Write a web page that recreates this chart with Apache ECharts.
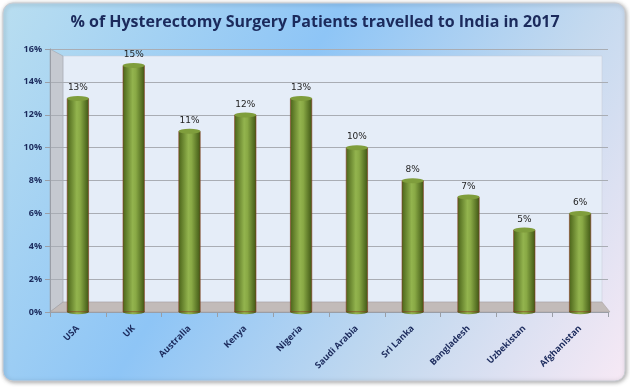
<!DOCTYPE html>
<html>
<head>
<meta charset="utf-8">
<script src="https://cdn.jsdelivr.net/npm/echarts@6/dist/echarts.min.js"></script>
<style>
  html,body{margin:0;padding:0;background:#fff;}
  #main{width:630px;height:387px;}
</style>
</head>
<body>
<div id="main"></div>
<script>
  // 数据
  let countries = ['USA','UK','Australia','Kenya','Nigeria','Saudi Arabia','Sri Lanka','Bangladesh','Uzbekistan','Afghanistan'];
  let patients = [13,15,11,12,13,10,8,7,5,6];
  let yTicks = [0,2,4,6,8,10,12,14,16];

  let myChart = echarts.init(document.getElementById('main'));
  let navy = '#1b2a5c';
  let barColor = new echarts.graphic.LinearGradient(0,0,1,0,[
    {offset:0,color:'#4a6319'},
    {offset:0.45,color:'#93b44e'},
    {offset:0.6,color:'#89a945'},
    {offset:1,color:'#3f5614'}
  ]);
  let option = {
    backgroundColor:'#ffffff',
    graphic:[
      {//外框背景
        type:'rect',
        z:-10,
        shape:{x:3,y:3,width:622,height:378,r:10},
        style:{
          fill:new echarts.graphic.LinearGradient(0,0,1,1,[
            {offset:0,color:'#b9def0'},
            {offset:0.4,color:'#8ec5f6'},
            {offset:0.7,color:'#c3d9ef'},
            {offset:1,color:'#f7e9f5'}
          ]),
          stroke:'#c9ccd3',
          lineWidth:1,
          shadowBlur:4,
          shadowColor:'rgba(0,0,0,0.35)',
          shadowOffsetX:1,
          shadowOffsetY:1
        }
      },
      {//侧墙
        type:'polygon',
        z:-5,
        shape:{points:[[50,49],[63,56],[63,302],[50,312]]},
        style:{fill:'#c5c9d0',stroke:'#9a9ea6',lineWidth:0.5}
      },
      {//底面
        type:'polygon',
        z:-5,
        shape:{points:[[50,312],[63,302],[602,302],[610,312]]},
        style:{fill:'#c2bbb9',stroke:'#a29a98',lineWidth:0.5}
      },
      {//背墙
        type:'rect',
        z:-6,
        shape:{x:63,y:56,width:539,height:246},
        style:{fill:'#e5edf8',stroke:'#c4cbd6',lineWidth:0.5}
      }
    ],
    title:{
      text:'% of Hysterectomy Surgery Patients travelled to India in 2017',
      left:'center',
      top:9,
      textStyle:{
        color:navy,
        fontFamily:'Open Sans',
        fontWeight:'bold',
        fontSize:16
      }
    },
    grid:{
      left:50,
      right:22,
      top:49,
      bottom:75
    },
    xAxis:{
      type:'category',
      data:countries,
      axisTick:{show:true,alignWithLabel:false,lineStyle:{color:'#9a9ea6'}},
      axisLine:{show:true,lineStyle:{color:'#9a9ea6'}},
      axisLabel:{
        interval:0,
        rotate:45,
        color:navy,
        fontFamily:'Open Sans',
        fontWeight:'bold',
        fontSize:9,
        margin:15
      },
      splitLine:{show:false}
    },
    yAxis:{
      type:'value',
      min:0,
      max:16,
      interval:2,
      axisLine:{show:true,lineStyle:{color:'#9a9ea6'}},
      axisTick:{show:true,lineStyle:{color:'#9a9ea6'}},
      axisLabel:{
        formatter:function(v){return yTicks.indexOf(v)>=0 ? v+'%' : '';},
        color:navy,
        fontFamily:'Open Sans',
        fontWeight:'bold',
        fontSize:9,
        margin:8
      },
      splitLine:{show:true,lineStyle:{color:'#a9adb4',width:1}}
    },
    series:[
      {
        type:'bar',
        data:patients,
        barWidth:22,
        itemStyle:{color:barColor,borderColor:'#8a3a22',borderWidth:0.6},
        label:{
          show:true,
          position:'top',
          distance:6,
          formatter:'{c}%',
          color:'#222',
          fontFamily:'DejaVu Sans',
          fontSize:9
        },
        z:2
      },
      {//柱顶椭圆
        type:'pictorialBar',
        data:patients,
        symbol:'circle',
        symbolSize:[22,5],
        symbolPosition:'end',
        symbolOffset:[0,'-50%'],
        itemStyle:{color:'#7f9e3c',borderColor:'#8a3a22',borderWidth:0.6},
        z:3,
        silent:true
      },
      {//柱底椭圆
        type:'pictorialBar',
        data:patients,
        symbol:'circle',
        symbolSize:[22,5],
        symbolPosition:'start',
        symbolOffset:[0,'50%'],
        itemStyle:{color:barColor,borderColor:'#8a3a22',borderWidth:0.6},
        z:1,
        silent:true
      }
    ]
  };
  myChart.setOption(option);
</script>
</body>
</html>
